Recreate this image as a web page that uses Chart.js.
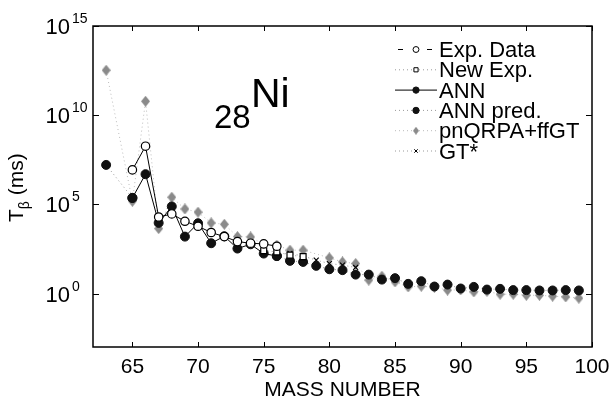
<!DOCTYPE html>
<html lang="en">
  <head>
    <meta charset="UTF-8" />
    <title>Ni half-lives</title>
    <script src="https://cdn.jsdelivr.net/npm/chart.js"></script>
    <style>
      body {
        margin: 0;
        background: #fff;
      }
      #wrap {
        width: 611px;
        height: 402px;
      }
    </style>
  </head>
  <body>
    <div id="wrap"><canvas id="myChart" width="611" height="402"></canvas></div>

    <script>
      // values are log10(T in ms)
      const expMass = [65, 66, 67, 68, 69, 70, 71, 72, 73, 74, 75, 76];
      const expLog = [6.93, 8.26, 4.29, 4.46, 4.05, 3.77, 3.42, 3.19, 2.91, 2.82, 2.78, 2.65];

      const newMass = [75, 76, 77, 78];
      const newLog = [2.4, 2.33, 2.15, 2.07];

      const annMass = [65, 66, 67, 68, 69, 70, 71, 72, 73, 74, 75, 76];
      const annLog = [5.36, 6.69, 3.96, 4.88, 3.19, 3.94, 2.82, 3.21, 2.52, 2.76, 2.24, 2.1];

      // null = break in the dotted line
      const predMass = [63, 65, 70, 76, 77, 78, 79, 80, 81, 82, 83, 84, 85, 86, 87, 88, 89, 90, 91, 92, 93, 94, 95, 96, 97, 98, 99];
      const predLog = [7.21, 5.36, null, 2.1, 1.83, 1.77, 1.55, 1.36, 1.31, 1.06, 1.06, 0.78, 0.86, 0.54, 0.69, 0.39, 0.5, 0.28, 0.37, 0.22, 0.26, 0.19, 0.19, 0.17, 0.17, 0.19, 0.17];

      const qrpaMass = [63, 65, 66, 67, 68, 69, 70, 71, 72, 73, 74, 75, 76, 77, 78, 80, 81, 82, 83, 84, 85, 86, 87, 88, 89, 90, 91, 92, 93, 94, 95, 96, 97, 98, 99];
      const qrpaLog = [12.52, 5.17, 10.78, 3.64, 5.4, 4.74, 4.56, 3.96, 3.88, 3.19, 3.17, 2.75, 2.71, 2.43, 2.43, 2.0, 1.77, 1.68, 0.75, 0.97, 0.65, 0.37, 0.41, 0.35, 0.19, 0.2, 0.09, 0.12, -0.04, -0.04, -0.1, -0.1, -0.15, -0.19, -0.26];

      const gtMass = [76, 77, 78, 79, 80, 81, 82];
      const gtLog = [2.2, 2.25, 2.1, 1.87, 1.68, 1.59, 1.46];

      const xTicks = [65, 70, 75, 80, 85, 90, 95, 100];
      const yTickExp = [0, 5, 10, 15];

      const font = "'Liberation Sans', Arial, sans-serif";

      function pts(mass, logs) {
        return mass.map((m, i) => ({ x: m, y: logs[i] === null ? null : Math.pow(10, logs[i]) }));
      }

      // tall grey diamond marker
      function diamond(w, h) {
        const cv = document.createElement("canvas");
        cv.width = w;
        cv.height = h;
        const g = cv.getContext("2d");
        g.fillStyle = "#8a8a8a";
        g.beginPath();
        g.moveTo(w / 2, 0);
        g.lineTo(w, h / 2);
        g.lineTo(w / 2, h);
        g.lineTo(0, h / 2);
        g.closePath();
        g.fill();
        return cv;
      }
      const bigDiamond = diamond(9, 11);
      const smallDiamond = diamond(6, 8);

      // legend entries: dataset index + how the sample line looks
      const legendRows = [
        { ds: 0, label: "Exp. Data", dash: [5, 24], from: 398, to: 432, color: "#000" },
        { ds: 1, label: "New Exp.", dash: [1, 3], from: 395, to: 437, color: "#999" },
        { ds: 2, label: "ANN", dash: [], from: 395, to: 437, color: "#000" },
        { ds: 3, label: "ANN pred.", dash: [1, 3], from: 395, to: 437, color: "#999" },
        { ds: 4, label: "pnQRPA+ffGT", dash: [1, 3], from: 395, to: 437, color: "#bbb" },
        { ds: 5, label: "GT*", dash: [1, 3], from: 395, to: 437, color: "#999" },
      ];

      const decor = {
        id: "decor",
        afterDraw(chart) {
          const c = chart.ctx;
          const a = chart.chartArea;
          const xs = chart.scales.x;
          const ys = chart.scales.y;
          c.save();

          // frame + inward ticks on all four sides
          c.strokeStyle = "#000";
          c.lineWidth = 1.5;
          c.strokeRect(a.left, a.top, a.right - a.left, a.bottom - a.top);
          c.lineWidth = 1;
          c.beginPath();
          xTicks.forEach((t) => {
            const px = Math.round(xs.getPixelForValue(t)) + 0.5;
            c.moveTo(px, a.bottom); c.lineTo(px, a.bottom - 5);
            c.moveTo(px, a.top); c.lineTo(px, a.top + 5);
          });
          yTickExp.forEach((e) => {
            const py = Math.round(ys.getPixelForValue(Math.pow(10, e))) + 0.5;
            c.moveTo(a.left, py); c.lineTo(a.left + 6, py);
            c.moveTo(a.right, py); c.lineTo(a.right - 6, py);
          });
          c.stroke();

          // tick labels
          c.fillStyle = "#000";
          c.font = "21px " + font;
          c.textAlign = "center";
          c.textBaseline = "alphabetic";
          xTicks.forEach((t) => {
            c.fillText(String(t), xs.getPixelForValue(t), a.bottom + 26);
          });
          yTickExp.forEach((e) => {
            const py = ys.getPixelForValue(Math.pow(10, e));
            c.font = "22px " + font;
            c.textAlign = "right";
            c.fillText("10", 70, py + 8);
            c.font = "14px " + font;
            c.textAlign = "left";
            c.fillText(String(e), 72, py - 3);
          });

          // axis titles
          c.font = "21px " + font;
          c.textAlign = "center";
          c.fillText("MASS NUMBER", (a.left + a.right) / 2, 396);

          c.save();
          c.translate(23, 222);
          c.rotate(-Math.PI / 2);
          c.textAlign = "left";
          c.font = "21px " + font;
          c.fillText("T", 0, 0);
          let w = c.measureText("T").width;
          c.font = "14px " + font;
          c.fillText("\u03b2", w, 6);
          w += c.measureText("\u03b2").width;
          c.font = "21px " + font;
          c.fillText(" (ms)", w, 0);
          c.restore();

          // element label
          c.textAlign = "left";
          c.font = "33px " + font;
          c.fillText("28", 214, 128);
          c.font = "41px " + font;
          c.fillText("Ni", 251, 107);

          // legend
          legendRows.forEach((r, i) => {
            const ds = chart.data.datasets[r.ds];
            const y = 49.5 + i * 20.3;
            c.strokeStyle = r.color;
            c.lineWidth = 1;
            c.setLineDash(r.dash);
            c.beginPath();
            c.moveTo(r.from, y); c.lineTo(r.to, y);
            c.stroke();
            c.setLineDash([]);
            const style = ds.pointStyle === bigDiamond ? smallDiamond : ds.pointStyle;
            c.fillStyle = ds.pointBackgroundColor;
            c.strokeStyle = ds.pointBorderColor;
            c.lineWidth = 1;
            Chart.helpers.drawPoint(c, { pointStyle: style, radius: ds.pointRadius * 0.7, borderWidth: 1 }, 416, y);
            c.fillStyle = "#000";
            c.font = "22px " + font;
            c.textAlign = "left";
            c.fillText(r.label, 439, y + 7.5);
          });

          c.restore();
        },
      };

      const ctx = document.getElementById("myChart");

      new Chart(ctx, {
        type: "line",
        data: {
          datasets: [
            {
              label: "Exp. Data",
              data: pts(expMass, expLog),
              borderColor: "#000",
              borderWidth: 1,
              pointStyle: "circle",
              pointRadius: 4.2,
              pointBackgroundColor: "#fff",
              pointBorderColor: "#000",
              pointBorderWidth: 1.2,
              order: 1,
            },
            {
              label: "New Exp.",
              data: pts(newMass, newLog),
              borderColor: "#999",
              borderWidth: 1,
              borderDash: [1, 3],
              pointStyle: "rect",
              pointRadius: 4.2,
              pointBackgroundColor: "#fff",
              pointBorderColor: "#000",
              pointBorderWidth: 1.2,
              order: 2,
            },
            {
              label: "ANN",
              data: pts(annMass, annLog),
              borderColor: "#000",
              borderWidth: 1,
              pointStyle: "circle",
              pointRadius: 4.5,
              pointBackgroundColor: "#111",
              pointBorderColor: "#111",
              pointBorderWidth: 1,
              order: 3,
            },
            {
              label: "ANN pred.",
              data: pts(predMass, predLog),
              borderColor: "#999",
              borderWidth: 1,
              borderDash: [1, 3],
              pointStyle: "circle",
              pointRadius: 4.5,
              pointBackgroundColor: "#111",
              pointBorderColor: "#111",
              pointBorderWidth: 1,
              order: 4,
            },
            {
              label: "pnQRPA+ffGT",
              data: pts(qrpaMass, qrpaLog),
              borderColor: "#bbb",
              borderWidth: 1,
              borderDash: [1, 3],
              pointStyle: bigDiamond,
              pointRadius: 5,
              pointBackgroundColor: "#8a8a8a",
              pointBorderColor: "#8a8a8a",
              pointBorderWidth: 1,
              order: 6,
            },
            {
              label: "GT*",
              data: pts(gtMass, gtLog),
              borderColor: "#999",
              borderWidth: 1,
              borderDash: [1, 3],
              pointStyle: "crossRot",
              pointRadius: 3.5,
              pointBackgroundColor: "#000",
              pointBorderColor: "#000",
              pointBorderWidth: 1.2,
              order: 5,
            },
          ],
        },
        options: {
          responsive: false,
          animation: false,
          spanGaps: false,
          layout: {
            padding: { left: 93, right: 19, top: 26, bottom: 55 },
          },
          plugins: {
            legend: { display: false },
            tooltip: { enabled: false },
          },
          scales: {
            x: { type: "linear", min: 62, max: 100, display: false },
            y: { type: "logarithmic", min: 1e-3, max: 1e15, display: false },
          },
        },
        plugins: [decor],
      });
    </script>
  </body>
</html>
